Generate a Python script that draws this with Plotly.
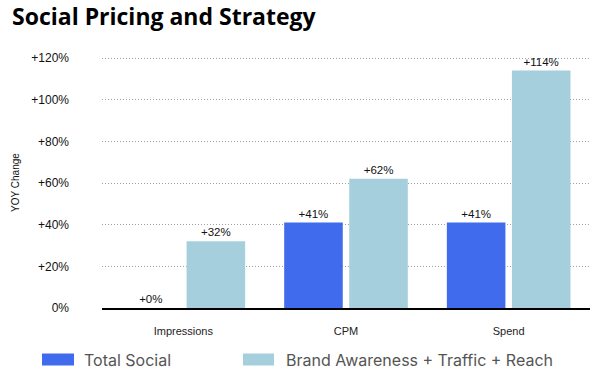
import plotly.graph_objects as go

categories = ["Impressions", "CPM", "Spend"]
total_social = [0, 41, 41]
brand_awareness = [32, 62, 114]
series_names = ["Total Social", "Brand Awareness + Traffic + Reach"]
tick_values = [0, 20, 40, 60, 80, 100, 120]
tick_labels = ["0%", "+20%", "+40%", "+60%", "+80%", "+100%", "+120%"]

DARK = "#3F6BEC"
LIGHT = "#A5CFDC"

W, H = 600, 375
L, R, T, B = 102, 10, 57, 67
PW = W - L - R
PH = H - T - B


def px_x(px):
    return (px - L) / PW


def px_y(py):
    return (H - B - py) / PH


fig = go.Figure()
for vals, name, col in [(total_social, series_names[0], DARK), (brand_awareness, series_names[1], LIGHT)]:
    fig.add_trace(go.Bar(
        x=categories, y=vals, name=name,
        marker=dict(color=col, line=dict(width=0)),
        text=[f"+{v}%" for v in vals], textposition="outside",
        textfont=dict(family="Liberation Sans, Arial", size=11.5, color="#111"),
        cliponaxis=False, showlegend=False,
    ))

shapes = []
annotations = []
legend_items = [(series_names[0], DARK, 42, 74, 82), (series_names[1], LIGHT, 243, 274, 284)]
for name, col, x0, x1, tx in legend_items:
    shapes.append(dict(type="rect", xref="paper", yref="paper",
                       x0=px_x(x0), x1=px_x(x1), y0=px_y(365.5), y1=px_y(353.5),
                       fillcolor=col, line=dict(width=0)))
    annotations.append(dict(text=name, xref="paper", yref="paper",
                            x=px_x(tx), y=px_y(359.5), xanchor="left", yanchor="middle",
                            showarrow=False,
                            font=dict(family="Inter, Lato, sans-serif", size=16, color="#555")))

fig.update_layout(
    width=W, height=H,
    margin=dict(l=L, r=R, t=T, b=B),
    paper_bgcolor="white", plot_bgcolor="white",
    barmode="group", bargap=0.2, bargroupgap=0.1,
    title=dict(text="<b>Social Pricing and Strategy</b>", x=12 / W, xanchor="left",
               y=0.976, yanchor="top", xref="container", yref="container",
               font=dict(family="Open Sans", size=23, color="#000")),
    showlegend=False,
    shapes=shapes,
    annotations=annotations,
    font=dict(family="Liberation Sans, Arial"),
)
fig.update_xaxes(
    showgrid=False, showline=True, linecolor="#000", linewidth=1.5,
    tickfont=dict(family="Liberation Sans, Arial", size=11, color="#222"),
    ticks="", ticklabelstandoff=12, automargin=False,
)
fig.update_yaxes(
    range=[0, 120.5], tickvals=tick_values, ticktext=tick_labels,
    showgrid=True, gridcolor="#a0a0a0", griddash="1px,2px", gridwidth=1,
    zeroline=False, ticks="", ticklabelstandoff=32, automargin=False,
    tickfont=dict(family="Liberation Sans, Arial", size=12, color="#111"),
    title=dict(text="YOY Change", font=dict(family="Liberation Sans, Arial", size=10, color="#111"),
               standoff=9),
)

fig.write_html("out.html", config={"displayModeBar": False},
               post_script="document.body.style.margin='0';document.body.style.overflow='hidden';")
